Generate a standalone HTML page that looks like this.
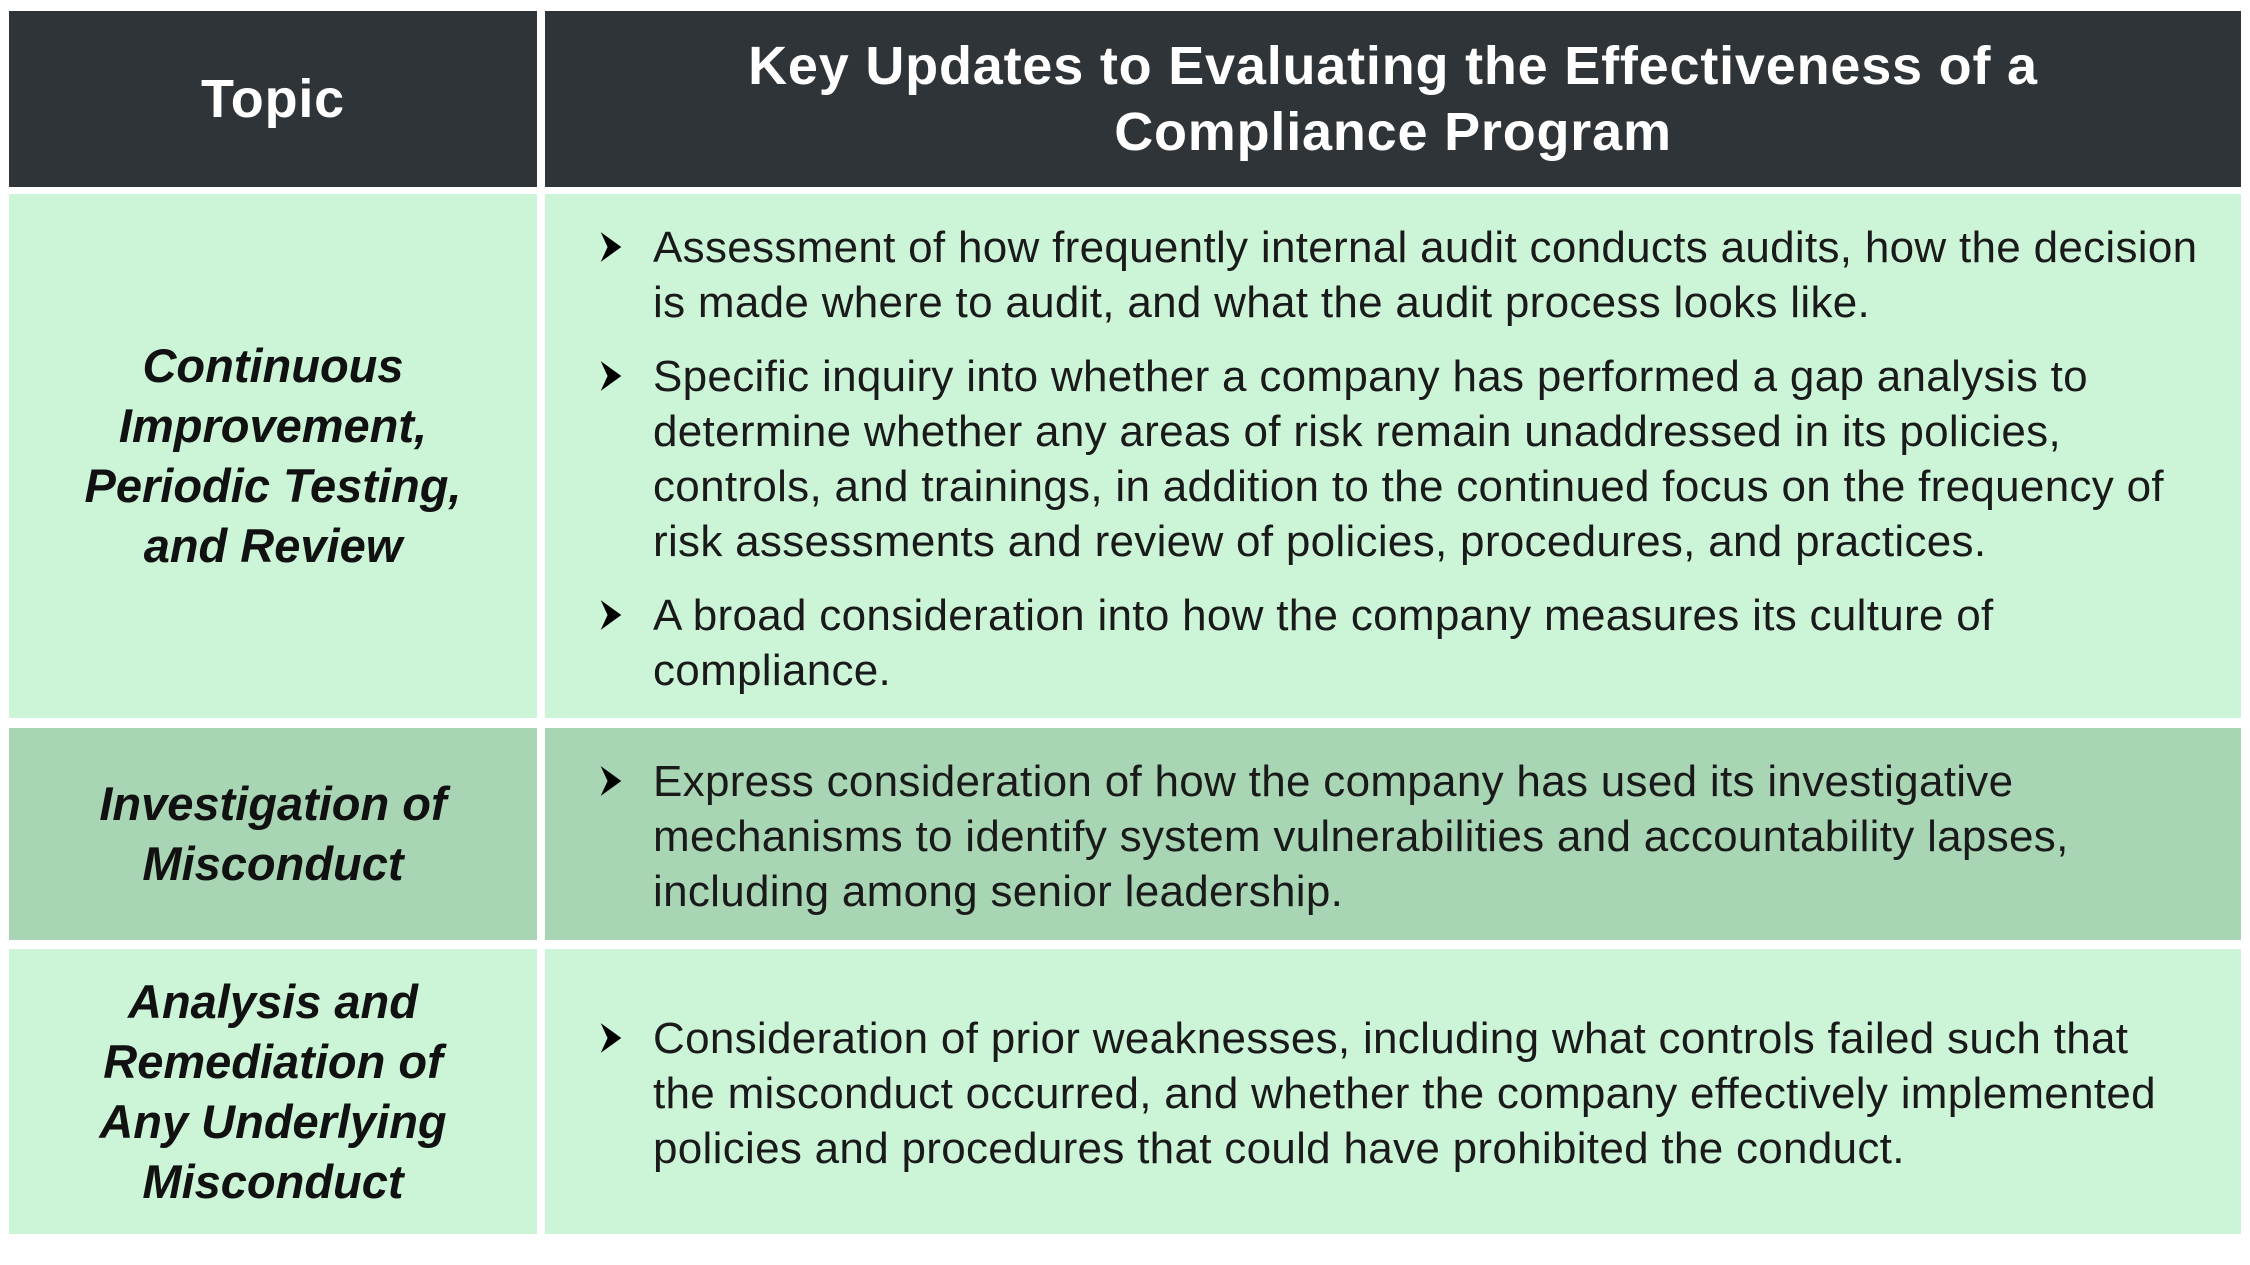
<!DOCTYPE html>
<html><head><meta charset="utf-8"><style>
html,body{margin:0;padding:0;background:#fff;}
body{width:2250px;height:1265px;position:relative;overflow:hidden;font-family:"Liberation Sans",Arial,sans-serif;}
.c{position:absolute;}
.hd{background:#2e3437;color:#fff;font-weight:bold;font-size:54px;letter-spacing:0.8px;text-align:center;display:flex;align-items:center;justify-content:center;line-height:66px;}
.lg{background:#ccf5d8;}
.dg{background:#a8d5b3;}
.topic{display:flex;align-items:center;justify-content:center;text-align:center;font-style:italic;font-weight:bold;font-size:47px;line-height:60px;color:#111;}
.t{position:absolute;left:653px;font-size:44px;line-height:55px;color:#1a1a1a;white-space:nowrap;letter-spacing:0.3px;}
.b{position:absolute;left:598px;width:26px;height:32px;}
</style></head><body>
<div class="c hd" style="left:9px;top:11px;width:528px;height:176px;">Topic</div>
<div class="c hd" style="left:545px;top:11px;width:1696px;height:176px;">Key Updates to Evaluating the Effectiveness of a<br>Compliance Program</div>

<div class="c lg topic" style="left:9px;top:194px;width:528px;height:524px;">Continuous<br>Improvement,<br>Periodic Testing,<br>and Review</div>
<div class="c lg" style="left:545px;top:194px;width:1696px;height:524px;"></div>

<div class="c dg topic" style="left:9px;top:728px;width:528px;height:212px;">Investigation of<br>Misconduct</div>
<div class="c dg" style="left:545px;top:728px;width:1696px;height:212px;"></div>

<div class="c lg topic" style="left:9px;top:949px;width:528px;height:285px;">Analysis and<br>Remediation of<br>Any Underlying<br>Misconduct</div>
<div class="c lg" style="left:545px;top:949px;width:1696px;height:285px;"></div>

<svg class="b" style="top:231px" viewBox="0 0 22 28"><path d="M2 1 L20 14 L2 27 L8 14Z" fill="#000"/></svg>
<div class="t" style="top:220px;">Assessment of how frequently internal audit conducts audits, how the decision<br>is made where to audit, and what the audit process looks like.</div>

<svg class="b" style="top:360px" viewBox="0 0 22 28"><path d="M2 1 L20 14 L2 27 L8 14Z" fill="#000"/></svg>
<div class="t" style="top:349px;">Specific inquiry into whether a company has performed a gap analysis to<br>determine whether any areas of risk remain unaddressed in its policies,<br>controls, and trainings, in addition to the continued focus on the frequency of<br>risk assessments and review of policies, procedures, and practices.</div>

<svg class="b" style="top:599px" viewBox="0 0 22 28"><path d="M2 1 L20 14 L2 27 L8 14Z" fill="#000"/></svg>
<div class="t" style="top:588px;">A broad consideration into how the company measures its culture of<br>compliance.</div>

<svg class="b" style="top:765px" viewBox="0 0 22 28"><path d="M2 1 L20 14 L2 27 L8 14Z" fill="#000"/></svg>
<div class="t" style="top:754px;">Express consideration of how the company has used its investigative<br>mechanisms to identify system vulnerabilities and accountability lapses,<br>including among senior leadership.</div>

<svg class="b" style="top:1022px" viewBox="0 0 22 28"><path d="M2 1 L20 14 L2 27 L8 14Z" fill="#000"/></svg>
<div class="t" style="top:1011px;">Consideration of prior weaknesses, including what controls failed such that<br>the misconduct occurred, and whether the company effectively implemented<br>policies and procedures that could have prohibited the conduct.</div>
</body></html>
